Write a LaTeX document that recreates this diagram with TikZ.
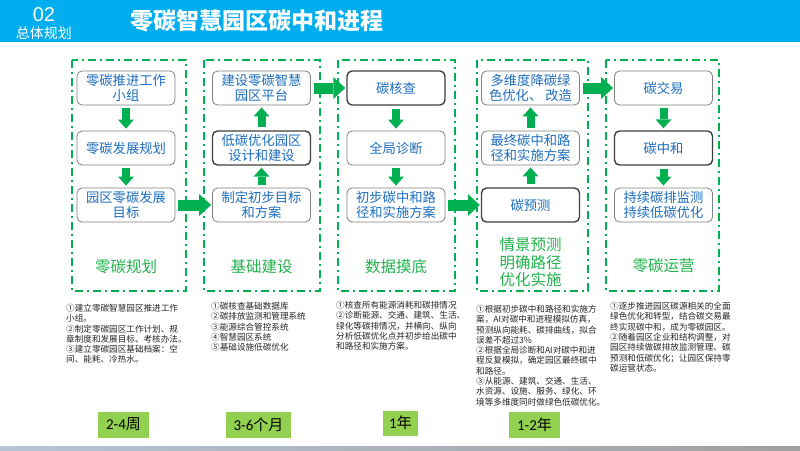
\documentclass[tikz,border=0pt]{standalone}
\usepackage{fontspec}
\newfontfamily\cjk{Noto Sans CJK SC}
\newfontfamily\lat{Carlito}
\newfontfamily\arl{Liberation Sans}
\usetikzlibrary{arrows.meta}
\definecolor{hdrblue}{RGB}{0,174,239}
\definecolor{gr}{RGB}{0,176,80}
\definecolor{lbl}{RGB}{34,178,76}
\definecolor{txtblue}{RGB}{30,110,190}
\definecolor{lgreen}{RGB}{146,208,80}
\definecolor{barL}{RGB}{182,196,214}
\definecolor{barR}{RGB}{160,160,160}
\tikzset{
  box/.style={draw=black!50, rounded corners=5pt, line width=0.8pt, minimum width=98pt, minimum height=34pt, inner sep=1pt, align=center, text=txtblue, fill=white, font=\cjk\fontsize{13.3}{15.5}\selectfont},
  boxk/.style={box, draw=black!75, line width=1.4pt},
  frame/.style={draw=gr, line width=1.8pt, dash pattern=on 8pt off 4pt on 2pt off 4pt},
  vdown/.style={draw=gr, line width=8pt, -{Triangle[width=16pt,length=9pt,line width=0pt]}, shorten <=3pt, shorten >=2pt},
  hright/.style={draw=gr, line width=11pt, -{Triangle[width=22pt,length=12pt,line width=0pt]}, shorten <=3pt, shorten >=1pt},
  glabel/.style={text=lbl, align=center, font=\cjk\fontsize{15.5}{17.5}\selectfont},
  desc/.style={anchor=north west, inner sep=0pt, align=left, text=black!85, font=\cjk\fontsize{8.6}{10.3}\selectfont},
  period/.style={fill=lgreen, inner sep=0pt, text=black, font=\fontsize{15}{15}\selectfont}
}
\begin{document}
\begin{tikzpicture}[x=1pt,y=-1pt]
\useasboundingbox (0,0) rectangle (800,450);
\fill[white] (0,0) rectangle (800,450);
% header
\fill[hdrblue] (0,0) rectangle (800,42);
\node[text=white, font=\arl\fontsize{20}{20}\selectfont] (num) at (44,14.5) {02};
\node[text=white, font=\cjk\fontsize{14}{14}\selectfont] (sec) at (44,33) {总体规划};
\node[text=white, anchor=west, inner sep=0pt, font=\cjk\bfseries\fontsize{23}{23}\selectfont] (title) at (130,21) {零碳智慧园区碳中和进程};
% frames
\draw[frame] (72,60) rectangle (186,291);
\draw[frame] (204,60) rectangle (320,291);
\draw[frame] (338,60) rectangle (455,291);
\draw[frame] (477,60) rectangle (588,291);
\draw[frame] (606,60) rectangle (719,291);
% column 1
\node[box] (a1) at (126,88) {零碳推进工作\\小组};
\node[box] (a2) at (126,148) {零碳发展规划};
\node[box] (a3) at (126,205) {园区零碳发展\\目标};
% column 2
\node[box] (b1) at (261.5,88) {建设零碳智慧\\园区平台};
\node[boxk] (b2) at (261.5,148) {低碳优化园区\\设计和建设};
\node[box] (b3) at (261.5,205) {制定初步目标\\和方案};
% column 3
\node[boxk] (c1) at (396,88) {碳核查};
\node[box] (c2) at (396,148) {全局诊断};
\node[box] (c3) at (396,205) {初步碳中和路\\径和实施方案};
% column 4
\node[box] (d1) at (530.5,88) {多维度降碳绿\\色优化、\ 改造};
\node[box] (d2) at (530.5,148) {最终碳中和路\\径和实施方案};
\node[boxk] (d3) at (530.5,205) {碳预测};
% column 5
\node[box] (e1) at (663.5,88) {碳交易};
\node[boxk] (e2) at (663.5,148) {碳中和};
\node[box] (e3) at (663.5,205) {持续碳排监测\\持续低碳优化};
% arrows
\draw[vdown] (a1) -- (a2);
\draw[vdown] (a2) -- (a3);
\draw[hright] (a3) -- (b3);
\draw[vdown] (b3) -- (b2);
\draw[vdown] (b2) -- (b1);
\draw[hright] (b1) -- (c1);
\draw[vdown] (c1) -- (c2);
\draw[vdown] (c2) -- (c3);
\draw[hright] (c3) -- (d3);
\draw[vdown] (d3) -- (d2);
\draw[vdown] (d2) -- (d1);
\draw[hright] (d1) -- (e1);
\draw[vdown] (e1) -- (e2);
\draw[vdown] (e2) -- (e3);
% green labels
\node[glabel] (l1) at (126,267) {零碳规划};
\node[glabel] (l2) at (261.5,267) {基础建设};
\node[glabel] (l3) at (396,267) {数据摸底};
\node[glabel] (l4) at (530.5,262.5) {情景预测\\明确路径\\优化实施};
\node[glabel] (l5) at (663.5,266) {零碳运营};
% descriptions
\node[desc] (t1) at (66,304) {①建立零碳智慧园区推进工作\\小组。\\②制定零碳园区工作计划、规\\章制度和发展目标、考核办法。\\③建立零碳园区基础档案：空\\间、能耗、冷热水。};
\node[desc] (t2) at (211,302) {①碳核查基础数据库\\②碳排放监测和管理系统\\③能源综合管控系统\\④智慧园区系统\\⑤基础设施低碳优化};
\node[desc] (t3) at (336,301) {①核查所有能源消耗和碳排情况\\②诊断能源、交通、建筑、生活、\\绿化等碳排情况，并横向、纵向\\分析低碳优化点并初步给出碳中\\和路径和实施方案。};
\node[desc] (t4) at (476,305) {①根据初步碳中和路径和实施方\\案，AI对碳中和进程模拟仿真，\\预测纵向能耗、碳排曲线，拟合\\误差不超过3\%\\②根据全局诊断和AI对碳中和进\\程反复模拟，确定园区最终碳中\\和路径。\\③从能源、建筑、交通、生活、\\水资源、设施、服务、绿化、环\\境等多维度同时做绿色低碳优化。};
\node[desc] (t5) at (610,302) {①逐步推进园区碳源相关的全面\\绿色优化和转型，结合碳交易最\\终实现碳中和，成为零碳园区。\\②随着园区企业和结构调整，对\\园区持续做碳排放监测管理、碳\\预测和低碳优化；让园区保持零\\碳运营状态。};
% periods
\node[period, minimum width=51pt, minimum height=26pt] (p1) at (123.5,424.5) {{\lat 2-4}{\cjk 周}};
\node[period, minimum width=65pt, minimum height=26pt] (p2) at (258.5,424.5) {{\lat 3-6}{\cjk 个月}};
\node[period, minimum width=35pt, minimum height=25pt] (p3) at (400.5,423) {{\lat 1}{\cjk 年}};
\node[period, minimum width=51pt, minimum height=26pt] (p4) at (534.5,424.5) {{\lat 1-2}{\cjk 年}};
% bottom bar
\shade[left color=barL, right color=barR] (0,446) rectangle (800,450);
\end{tikzpicture}
\end{document}
